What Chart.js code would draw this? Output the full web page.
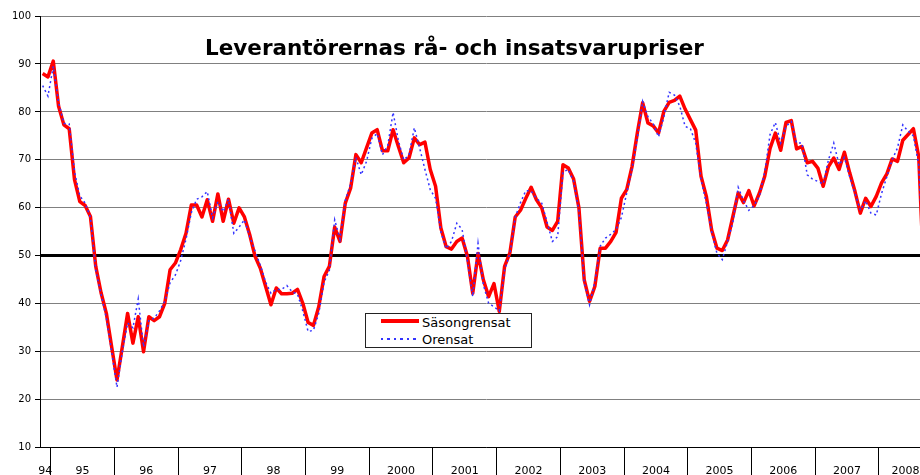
<!DOCTYPE html>
<html>
<head>
<meta charset="utf-8">
<script src="https://cdn.jsdelivr.net/npm/chart.js@4"></script>
<style>
    html, body { margin: 0; padding: 0; overflow: hidden; background: #fff; }
    #wrap { position: relative; width: 940px; height: 475px; }
    #title {
        position: absolute; left: 0; top: 35px; width: 909px;
        text-align: center; white-space: nowrap;
        font: bold 21.5px "DejaVu Sans"; line-height: 25px; color: #000;
    }
    #legend {
        position: absolute; left: 365px; top: 313px; width: 165px; height: 33px;
        border: 1px solid #222; background: #fff;
        font: 13px "DejaVu Sans"; line-height: 15px; color: #000;
    }
    .swatch { position: absolute; left: 15px; width: 38px; }
    .label { position: absolute; left: 56px; white-space: nowrap; }
</style>
</head>
<body>
<div id="wrap">
    <canvas id="chart01" width="940" height="475"></canvas>
    <div id="title">Leverantörernas rå- och insatsvarupriser</div>
    <div id="legend"></div>
</div>
<script>
// monthly data, Nov 1994 - Sep 2008
const sasongrensat = [
    88.0, 87.3,
    90.6, 81.2, 77.3, 76.5, 65.9, 61.3, 60.5, 58.2, 47.8, 42.3, 38.0, 31.0,
    24.1, 31.0, 38.0, 31.8, 37.3, 30.0, 37.3, 36.5, 37.3, 40.1, 47.1, 48.5,
    51.3, 54.7, 60.6, 60.6, 58.1, 61.7, 57.2, 62.9, 57.2, 61.8, 56.8, 60.0,
    58.1, 54.4, 49.9, 47.4, 43.6, 39.8, 43.3, 42.1, 42.1, 42.2, 43.0, 40.1,
    36.1, 35.5, 39.4, 45.7, 47.8, 56.0, 53.0, 61.0, 64.1, 71.1, 69.4, 72.5,
    75.6, 76.3, 71.9, 71.9, 76.3, 72.8, 69.4, 70.4, 74.6, 73.2, 73.7, 68.0,
    64.5, 55.8, 51.9, 51.4, 53.0, 53.7, 49.9, 42.2, 50.5, 45.0, 41.5, 44.2,
    38.4, 47.8, 50.6, 58.1, 59.5, 62.0, 64.3, 61.7, 60.0, 56.0, 55.3, 57.2,
    69.0, 68.3, 66.0, 60.0, 45.0, 40.5, 43.6, 51.6, 51.6, 53.0, 54.9, 62.0,
    63.8, 68.6, 75.6, 81.9, 77.7, 77.1, 75.6, 80.1, 82.0, 82.4, 83.3, 80.6,
    78.4, 76.2, 66.6, 62.4, 55.4, 51.6, 51.1, 53.3, 58.2, 63.1, 61.1, 63.6,
    60.4, 63.1, 66.6, 72.4, 75.6, 72.0, 77.8, 78.2, 72.3, 72.8, 69.4, 69.7,
    68.3, 64.5, 68.6, 70.4, 68.0, 71.6, 67.3, 63.4, 58.9, 62.0, 60.3, 62.4,
    65.2, 67.1, 70.2, 69.7, 74.1, 75.3, 76.5, 70.7, 45.0
];

const orensat = [
    85.5, 83.3,
    89.5, 82.0, 77.6, 77.5, 67.5, 62.5, 61.0, 58.0, 47.0, 42.0, 37.0, 30.0,
    22.6, 30.0, 36.0, 35.0, 41.0, 31.0, 36.5, 37.0, 38.5, 40.5, 44.4, 46.0,
    49.0, 53.5, 59.0, 61.8, 62.3, 63.4, 57.9, 61.3, 59.2, 61.8, 54.7, 56.0,
    57.5, 54.0, 51.0, 48.0, 44.5, 42.2, 43.0, 43.0, 43.8, 42.5, 42.0, 38.5,
    34.2, 34.5, 38.0, 44.5, 47.0, 57.5, 53.5, 61.5, 65.0, 70.5, 66.9, 69.7,
    74.5, 75.5, 71.1, 73.0, 79.9, 74.0, 70.0, 71.0, 76.7, 72.5, 68.0, 63.8,
    62.0, 55.0, 51.5, 53.0, 56.8, 55.5, 49.0, 41.5, 52.6, 44.0, 40.1, 39.4,
    38.5, 47.0, 50.5, 58.0, 61.1, 63.6, 63.5, 62.0, 61.0, 57.0, 53.0, 54.0,
    67.5, 68.0, 65.5, 59.5, 44.5, 39.8, 44.5, 52.0, 53.7, 54.5, 55.5, 58.0,
    63.1, 68.0, 74.5, 82.2, 79.0, 77.5, 74.8, 79.0, 84.1, 83.5, 81.2, 77.0,
    76.5, 73.5, 65.9, 61.0, 55.0, 50.5, 49.2, 53.0, 57.0, 64.3, 61.5, 59.5,
    60.5, 62.5, 67.5, 75.3, 77.8, 73.5, 77.0, 78.0, 73.5, 73.5, 66.9, 66.0,
    65.5, 65.0, 70.0, 73.5, 69.0, 70.5, 66.5, 63.0, 59.5, 61.5, 58.9, 58.5,
    63.0, 66.5, 70.0, 72.5, 77.3, 76.0, 75.0, 69.0, 45.0
];

const yearLabels = ['94', '95', '96', '97', '98', '99', '2000', '2001', '2002',
    '2003', '2004', '2005', '2006', '2007', '2008'];
const monthsInYear = [2, 12, 12, 12, 12, 12, 12, 12, 12, 12, 12, 12, 12, 12, 10];

const seriesNames = ['Säsongrensat', 'Orensat'];

// year boundaries and label positions on the month axis
const boundaries = [];
const centers = {};
let pos = 0;
monthsInYear.forEach((n, k) => {
    if (k > 0) boundaries.push(pos);
    centers[pos + n / 2] = yearLabels[k];
    pos += n;
});
const totalMonths = pos;
const xTicks = boundaries.concat(Object.keys(centers).map(Number)).sort((a, b) => a - b);

function points(values) {
    return values.map((v, i) => ({x: i + 0.5, y: v}));
}

const sa = {
    label: seriesNames[0],
    data: points(sasongrensat),
    borderColor: '#ff0000',
    borderWidth: 3.5,
    borderJoinStyle: 'round',
    order: 1
};

const raw = {
    label: seriesNames[1],
    data: points(orensat),
    borderColor: '#3333ff',
    borderWidth: 1.5,
    borderDash: [2, 3],
    order: 0
};

new Chart(document.getElementById('chart01'), {
    type: 'line',
    data: {datasets: [sa, raw]},
    options: {
        responsive: false,
        animation: false,
        devicePixelRatio: 1,
        layout: {padding: {left: 0, top: 16, right: 8, bottom: 0}},
        elements: {
            point: {radius: 0},
            line: {tension: 0}
        },
        plugins: {
            legend: {display: false},
            tooltip: {enabled: false}
        },
        scales: {
            x: {
                type: 'linear',
                min: 0,
                max: totalMonths,
                afterBuildTicks(scale) {
                    scale.ticks = xTicks.map(v => ({value: v}));
                },
                afterFit(scale) {
                    scale.height = 27.3;
                },
                grid: {
                    drawOnChartArea: false,
                    drawTicks: true,
                    tickLength: 28,
                    color: ctx => boundaries.includes(ctx.tick && ctx.tick.value) ? '#000' : 'rgba(0,0,0,0)'
                },
                border: {color: '#000', width: 1},
                ticks: {
                    autoSkip: false,
                    maxRotation: 0,
                    padding: -11,
                    color: '#000',
                    font: {family: 'DejaVu Sans', size: 11},
                    callback: v => centers[v] || ''
                }
            },
            y: {
                min: 10,
                max: 100,
                afterFit(scale) {
                    scale.width = 40;
                },
                grid: {
                    color: ctx => ctx.tick && ctx.tick.value === 50 ? '#000' : '#808080',
                    lineWidth: ctx => ctx.tick && ctx.tick.value === 50 ? 3 : 1,
                    tickColor: '#000',
                    tickWidth: 1,
                    tickLength: 5
                },
                border: {color: '#000', width: 1},
                ticks: {
                    stepSize: 10,
                    padding: 4,
                    color: '#000',
                    font: {family: 'DejaVu Sans', size: 10}
                }
            }
        }
    }
});

// legend box inside the plot, built from the series names
const legend = document.getElementById('legend');
legend.innerHTML =
    '<div class="swatch" style="top:5px;height:3.5px;background:#ff0000"></div>' +
    '<div class="label" style="top:1px">' + seriesNames[0] + '</div>' +
    '<div class="swatch" style="top:24px;height:2px;background:repeating-linear-gradient(to right,#3333ff 0 2.5px,transparent 2.5px 6.5px)"></div>' +
    '<div class="label" style="top:18px">' + seriesNames[1] + '</div>';
</script>
</body>
</html>
